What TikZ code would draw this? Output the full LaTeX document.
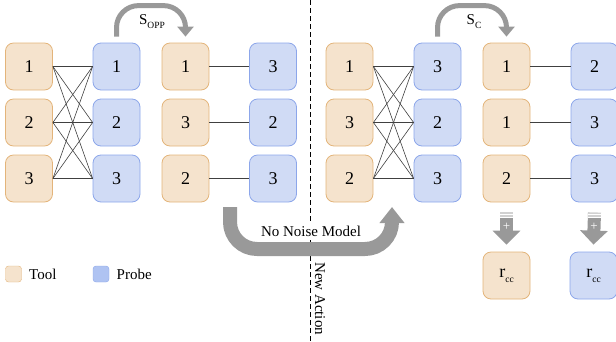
\documentclass[tikz,border=0pt]{standalone}
\usepackage{fontspec}
\setmainfont{Liberation Serif}
\usetikzlibrary{arrows.meta,positioning}
\definecolor{toolfill}{HTML}{F5E3CD}
\definecolor{tooldraw}{HTML}{E3B47A}
\definecolor{probefill}{HTML}{D0DBF5}
\definecolor{probedraw}{HTML}{8CA6EA}
\definecolor{legprobe}{HTML}{AFC3F2}
\definecolor{arrowgray}{HTML}{999999}
\newcommand{\lowsub}[2]{\raisebox{-#1}{\fontsize{9.5}{10}\selectfont #2}}
\begin{document}
\begin{tikzpicture}[x=1pt,y=-1pt, line join=round,
    tool/.style={draw=tooldraw, fill=toolfill, line width=0.8pt, rounded corners=8pt, minimum size=47pt, inner sep=0pt, font=\fontsize{18}{20}\selectfont},
    probe/.style={tool, draw=probedraw, fill=probefill},
    rbox/.style={minimum width=47pt, minimum height=31pt, rounded corners=5pt, font=\fontsize{17}{19}\selectfont},
    legbox/.style={minimum size=16pt, rounded corners=3pt},
    link/.style={draw=black!75, line width=0.6pt},
    swaparrow/.style={draw=arrowgray, line width=5pt, rounded corners=22pt, -{Triangle[width=16pt,length=10pt]}},
    bigarrow/.style={draw=arrowgray, line width=14pt, rounded corners=27pt, -{Triangle[width=24pt,length=16pt]}},
    sumarrow/.style={draw=arrowgray, line width=13pt, -{Triangle[width=27pt,length=14pt]}},
    txt/.style={font=\fontsize{15}{17}\selectfont}]
    \useasboundingbox (0,0) rectangle (616,341);
    % divider between the two actions
    \draw[black, line width=0.8pt, dash pattern=on 5pt off 3pt] (310,0) -- (310,341);
    % columns of tools and probes
    \foreach \col/\x/\kind/\a/\b/\c in {A/29/tool/1/2/3, B/116.5/probe/1/2/3, C/185.5/tool/1/3/2, D/273/probe/3/2/3,
        E/349.5/tool/1/3/2, F/437.5/probe/3/2/3, G/506.5/tool/1/1/2, H/594.5/probe/2/3/3}{
        \node[\kind] (\col1) at (\x,66.5) {\a};
        \node[\kind] (\col2) at (\x,122.5) {\b};
        \node[\kind] (\col3) at (\x,178.5) {\c};
    }
    \foreach \i in {1,2,3}{
        \foreach \j in {1,2,3}{
            \draw[link] (A\i.east) -- (B\j.west);
            \draw[link] (E\i.east) -- (F\j.west);
        }
        \draw[link] (C\i.east) -- (D\i.west);
        \draw[link] (G\i.east) -- (H\i.west);
    }
    % swaps
    \draw[swaparrow] ([yshift=6pt]B1.north) -- ++(0,-31) -| ([yshift=6pt]C1.north);
    \node[txt] (sopp) at (152,22) {S\lowsub{4pt}{OPP}};
    \draw[swaparrow] ([yshift=6pt]F1.north) -- ++(0,-31) -| ([yshift=6pt]G1.north);
    \node[txt] (sc) at (474,22) {S\lowsub{4pt}{C}};
    % no noise model
    \coordinate (uL) at (230,207);
    \coordinate (uR) at (392,207);
    \draw[bigarrow] (uL) -- ++(0,42) -| (uR);
    \node[txt, fill=white, inner sep=3pt] (nnm) at (311,231) {No Noise Model};
    \node[txt, rotate=-90, anchor=base west, inner sep=0pt] (newact) at (315,262) {New Action};
    % sums
    \node[rbox, tool] (rG) at (506.5,275.5) {r\lowsub{5pt}{cc}};
    \node[rbox, probe] (rH) at (593.5,275.5) {r\lowsub{5pt}{cc}};
    \foreach \col in {G,H}{
        \draw[sumarrow] ([yshift=-10pt]\col3.south) -- ([yshift=7pt]r\col.north) node[pos=0.45, white, font=\fontsize{13}{13}\selectfont] {+};
        \fill[white, opacity=0.55] ([shift={(-6.5pt,-10pt)}]\col3.south) rectangle ([shift={(6.5pt,-15pt)}]\col3.south);
        \draw[white, line width=0.7pt] ([shift={(-6.5pt,-12pt)}]\col3.south) -- ([shift={(6.5pt,-12pt)}]\col3.south);
        \draw[white, line width=0.7pt] ([shift={(-6.5pt,-14.5pt)}]\col3.south) -- ([shift={(6.5pt,-14.5pt)}]\col3.south);
    }
    % legend
    \node[legbox, draw=tooldraw, fill=toolfill] (legtool) at (13.5,274) {};
    \node[txt, right=4pt of legtool] (legtooltxt) {Tool};
    \node[legbox, draw=probedraw, fill=legprobe] (legprobe) at (101,274) {};
    \node[txt, right=4pt of legprobe] (legprobetxt) {Probe};
\end{tikzpicture}
\end{document}
